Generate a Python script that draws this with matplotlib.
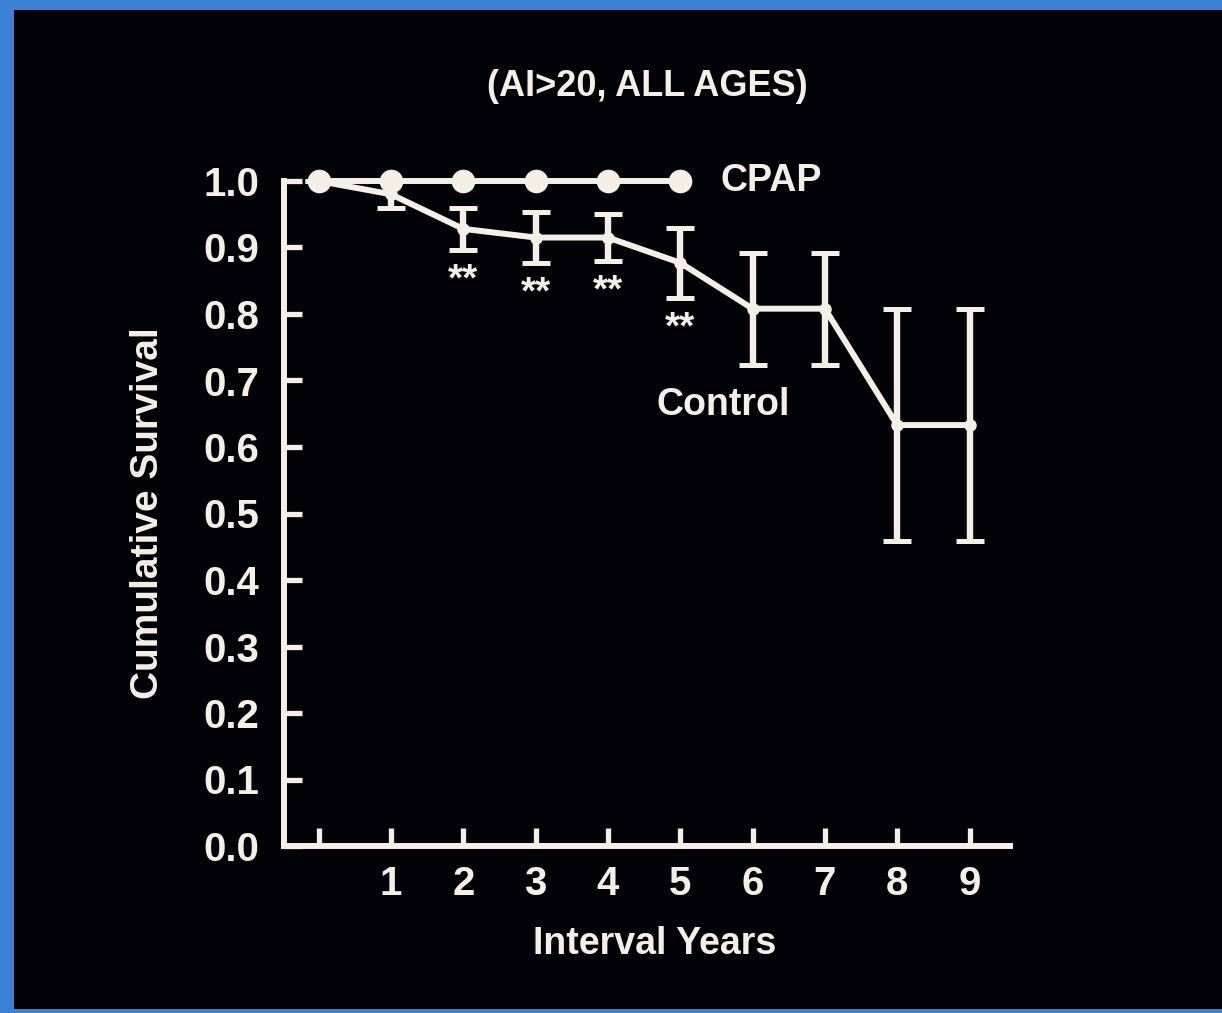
import matplotlib
matplotlib.use("Agg")
import matplotlib.pyplot as plt
from matplotlib.patches import Rectangle

# --- data -------------------------------------------------------------
years_cpap = [0, 1, 2, 3, 4, 5]
surv_cpap = [1.0, 1.0, 1.0, 1.0, 1.0, 1.0]

years_ctrl = [0, 1, 2, 3, 4, 5, 6, 7, 8, 9]
surv_ctrl = [1.0, 0.98, 0.928, 0.915, 0.915, 0.877, 0.808, 0.808, 0.633, 0.633]
err_ctrl = [0.0, 0.02, 0.032, 0.038, 0.035, 0.053, 0.084, 0.084, 0.175, 0.175]

signif_years = [2, 3, 4, 5]

x_ticks = list(range(10))
x_tick_labels = [""] + [str(i) for i in range(1, 10)]
y_ticks = [i / 10 for i in range(11)]
y_tick_labels = [f"{v:.1f}" for v in y_ticks]

title = "(AI>20, ALL AGES)"
x_label = "Interval Years"
y_label = "Cumulative Survival"

# --- style ------------------------------------------------------------
INK = "#f5efe8"
plt.rcParams["font.family"] = ["Liberation Sans", "DejaVu Sans"]
plt.rcParams["font.weight"] = "bold"

W, H = 1222, 1013
fig = plt.figure(figsize=(W / 100, H / 100), dpi=100, facecolor="#3b82d6")

# dark slide area inside the blue frame
fig.patches.append(Rectangle((14 / W, 4 / H), 1 - 14 / W, 1 - 14 / H,
                             transform=fig.transFigure, facecolor="#020208",
                             edgecolor="none", zorder=-10))

ax = fig.add_axes([284 / W, 1 - 846 / H, (1010 - 284) / W, (846 - 181) / H])
ax.set_zorder(1)
ax.set_facecolor("none")

ax.set_xlim(-0.48, 9.56)
ax.set_ylim(0.0, 1.0)

for side in ("top", "right"):
    ax.spines[side].set_visible(False)
for side in ("left", "bottom"):
    ax.spines[side].set_color(INK)
    ax.spines[side].set_linewidth(4.3)
    ax.spines[side].set_capstyle("projecting")

ax.set_xticks(x_ticks)
ax.set_xticklabels(x_tick_labels)
ax.set_yticks(y_ticks)
ax.set_yticklabels(y_tick_labels)
ax.tick_params(axis="both", direction="in", length=13, width=3.8, color=INK,
               labelcolor=INK, labelsize=29)
ax.tick_params(axis="x", pad=14)
ax.tick_params(axis="y", pad=18)

# control group with error bars
ax.errorbar(years_ctrl, surv_ctrl, yerr=err_ctrl, color=INK, lw=4.3,
            elinewidth=4.6, capsize=10, capthick=3.6, marker="o",
            markersize=8, zorder=3, clip_on=False)

# CPAP group
ax.plot(years_cpap, surv_cpap, color=INK, lw=4.3, marker="o", markersize=16,
        zorder=4, clip_on=False)

# significance marks beneath the early control points
for yr in signif_years:
    i = years_ctrl.index(yr)
    ax.annotate("**", (yr, surv_ctrl[i] - err_ctrl[i]), xytext=(0, -9),
                textcoords="offset points", ha="center", va="top",
                color=INK, fontsize=28, fontweight="bold")

ax.text(5.56, 1.0, "CPAP", color=INK, fontsize=27, fontweight="bold",
        ha="left", va="center")
ax.text(5.6, 0.663, "Control", color=INK, fontsize=27, fontweight="bold",
        ha="center", va="center")

ax.set_title(title, color=INK, fontsize=26, fontweight="bold", pad=61)
ax.set_xlabel(x_label, color=INK, fontsize=27, fontweight="bold", labelpad=17)
ax.xaxis.set_label_coords(0.51, -0.12)
ax.set_ylabel(y_label, color=INK, fontsize=28, fontweight="bold", labelpad=27)

fig.savefig("out.png", dpi=100, facecolor=fig.get_facecolor())
